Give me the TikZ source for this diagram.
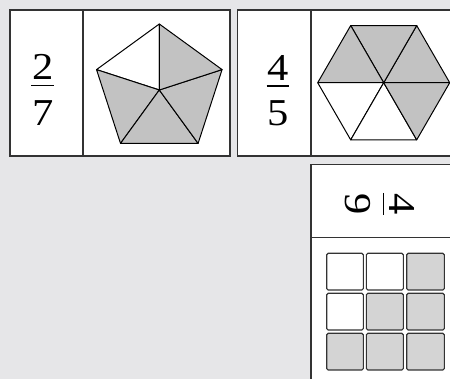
\documentclass[tikz,border=0pt]{standalone}
\usepackage{fontspec}
\setmainfont{Liberation Serif}
\usetikzlibrary{calc}
\definecolor{cbg}{HTML}{E6E6E8}
\definecolor{cshade}{HTML}{C2C2C2}
\definecolor{ccell}{HTML}{D4D4D4}
\definecolor{cline}{HTML}{333333}
\newcommand{\wdigit}[1]{\scalebox{1.12}[1]{#1}}

\begin{document}
\begin{tikzpicture}[
    x=1pt, y=-1pt,
    card/.style={draw=cline, line width=1.3pt, fill=white},
    slice/.style={draw=black, line width=1pt, line join=round, fill=cshade},
    blank/.style={slice, fill=white},
    cell/.style={draw=cline, line width=1.1pt, rounded corners=1.5pt, fill=ccell},
    emptycell/.style={cell, fill=white},
    digit/.style={font=\fontsize{38}{44}\selectfont, inner sep=0pt, anchor=base},
    fracbar/.style={line width=1.5pt},
]
\fill[cbg] (0,0) rectangle (450,379);
\clip (0,0) rectangle (450,379);
% cards
\draw[card] (10, 10) rectangle (230, 156);
\draw[cline, line width=1.3pt] (83, 10) -- (83, 156);
\draw[card] (237.7, 10) rectangle (458, 156);
\draw[cline, line width=1.3pt] (311, 10) -- (311, 156);
\draw[card] (311, 164.5) rectangle (458, 400);
\draw[cline, line width=1.3pt] (311, 237.7) -- (458, 237.7);
% 2/7
\node[digit] (numa) at (42.7, 80) {\wdigit{2}};
\node[digit] (dena) at (42.7, 125.5) {\wdigit{7}};
\draw[fracbar] (31, 85.5) -- (54.3, 85.5);
% 4/5
\node[digit] (numb) at (278, 80.5) {\wdigit{4}};
\node[digit] (denb) at (278, 126) {\wdigit{5}};
\draw[fracbar] (266.7, 86) -- (289.3, 86);
% 4/9, turned
\begin{scope}[shift={(383.3, 204)}, rotate=-90, transform shape]
\node[digit] (numc) at (0, -6.5) {\wdigit{4}};
\node[digit] (denc) at (0, 38) {\wdigit{9}};
\draw[fracbar] (-11, 0) -- (11, 0);
\end{scope}
% pentagon
\coordinate (pc) at (159.3, 90);
\filldraw[blank] (pc) -- ($(pc)+(90:66pt)$) -- ($(pc)+(162:66pt)$) -- cycle;
\filldraw[slice] (pc) -- ($(pc)+(162:66pt)$) -- ($(pc)+(234:66pt)$) -- cycle;
\filldraw[slice] (pc) -- ($(pc)+(234:66pt)$) -- ($(pc)+(306:66pt)$) -- cycle;
\filldraw[slice] (pc) -- ($(pc)+(306:66pt)$) -- ($(pc)+(18:66pt)$) -- cycle;
\filldraw[slice] (pc) -- ($(pc)+(18:66pt)$) -- ($(pc)+(90:66pt)$) -- cycle;
% hexagon
\coordinate (hc) at (383.7, 82.7);
\filldraw[slice] (hc) -- ($(hc)+(0:66pt)$) -- ($(hc)+(60:66pt)$) -- cycle;
\filldraw[slice] (hc) -- ($(hc)+(60:66pt)$) -- ($(hc)+(120:66pt)$) -- cycle;
\filldraw[slice] (hc) -- ($(hc)+(120:66pt)$) -- ($(hc)+(180:66pt)$) -- cycle;
\filldraw[blank] (hc) -- ($(hc)+(180:66pt)$) -- ($(hc)+(240:66pt)$) -- cycle;
\filldraw[blank] (hc) -- ($(hc)+(240:66pt)$) -- ($(hc)+(300:66pt)$) -- cycle;
\filldraw[slice] (hc) -- ($(hc)+(300:66pt)$) -- ($(hc)+(360:66pt)$) -- cycle;
% grid
\draw[emptycell] (326.7, 253.3) rectangle (363.3, 290);
\draw[emptycell] (366.3, 253.3) rectangle (403.3, 290);
\draw[cell]      (406.7, 253.3) rectangle (444.3, 290);
\draw[emptycell] (326.7, 293.3) rectangle (363.3, 330);
\draw[cell]      (366.3, 293.3) rectangle (403.3, 330);
\draw[cell]      (406.7, 293.3) rectangle (444.3, 330);
\draw[cell]      (326.7, 333.3) rectangle (363.3, 370);
\draw[cell]      (366.3, 333.3) rectangle (403.3, 370);
\draw[cell]      (406.7, 333.3) rectangle (444.3, 370);
\end{tikzpicture}
\end{document}
